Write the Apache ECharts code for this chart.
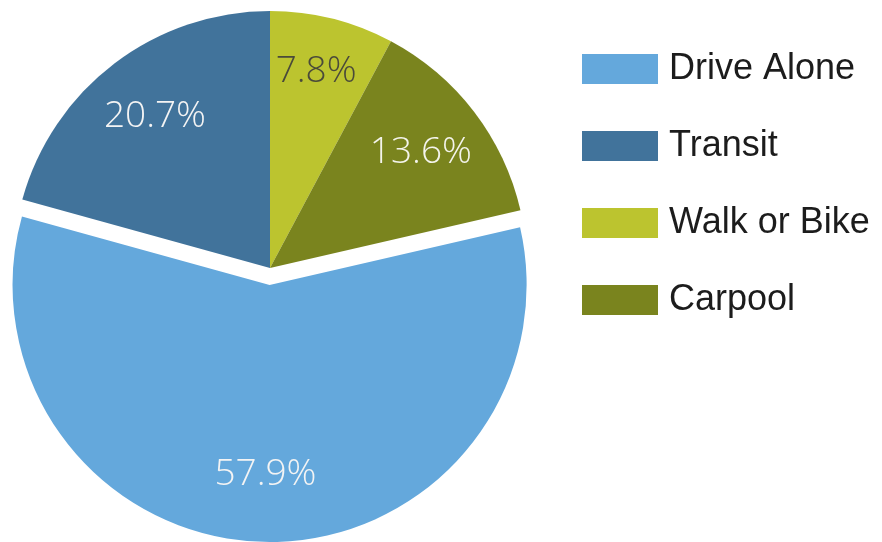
<!DOCTYPE html>
<html>
<head>
<meta charset="utf-8">
<script src="https://cdn.jsdelivr.net/npm/echarts@6/dist/echarts.min.js"></script>
<style>
  html, body { margin: 0; padding: 0; background: #ffffff; }
  #modeChart { width: 882px; height: 542px; }
</style>
</head>
<body>
<div id="modeChart"></div>
<script>
// slices, clockwise from 12 o'clock
const categories = ['Walk or Bike', 'Carpool', 'Drive Alone', 'Transit']
const shares = [7.8, 13.6, 57.9, 20.7]
const sliceColors = ['#bcc42f', '#7a841e', '#64a8dc', '#41739b']
const labelColors = ['#4a4a3a', '#f4f4ec', '#f4f4f4', '#f4f4f4']
// legend is listed in a different order than the slices
const legendOrder = ['Drive Alone', 'Transit', 'Walk or Bike', 'Carpool']
const explodedSlice = 'Drive Alone'

const myChart = echarts.init(document.getElementById('modeChart'), null, { renderer: 'canvas' })

const sliceData = categories.map((name, i) => ({
  name: name,
  value: shares[i],
  selected: name === explodedSlice,
  itemStyle: { color: sliceColors[i] }
}))

// same slices again, transparent, only to carry the percentage labels further out
const labelData = categories.map((name, i) => {
  const item = {
    name: name,
    value: shares[i],
    selected: name === explodedSlice,
    label: { color: labelColors[i] }
  }
  if (name === 'Walk or Bike') {
    // small slice: label sits closer to the rim, push it up with an empty 2nd line
    item.label.formatter = '{c}%\n'
    item.label.lineHeight = 24
  }
  return item
})

const option = {
  backgroundColor: '#ffffff',
  animation: false,
  color: sliceColors,
  legend: {
    data: legendOrder,
    orient: 'vertical',
    left: 577,
    top: 46,
    itemWidth: 76,
    itemHeight: 30,
    itemGap: 41,
    icon: 'rect',
    selectedMode: false,
    textStyle: {
      fontFamily: 'Liberation Sans',
      fontSize: 36,
      color: '#1c1c1c',
      padding: [0, 0, 0, 6]
    }
  },
  series: [
    {
      name: 'mode',
      type: 'pie',
      center: [270, 268],
      radius: [0, 257],
      startAngle: 90,
      clockwise: true,
      selectedMode: 'single',
      selectedOffset: 17,
      silent: true,
      label: { show: false },
      labelLine: { show: false },
      emphasis: { disabled: true },
      data: sliceData
    },
    {
      name: 'labels',
      type: 'pie',
      center: [270, 268],
      radius: [117, 257],
      startAngle: 90,
      clockwise: true,
      selectedMode: 'single',
      selectedOffset: 17,
      silent: true,
      itemStyle: { color: 'rgba(0,0,0,0)' },
      label: {
        show: true,
        position: 'inside',
        formatter: '{c}%',
        fontFamily: 'Open Sans',
        fontSize: 37,
        fontWeight: 300
      },
      labelLine: { show: false },
      emphasis: { disabled: true },
      data: labelData
    }
  ]
}

myChart.setOption(option, true)
</script>
</body>
</html>
